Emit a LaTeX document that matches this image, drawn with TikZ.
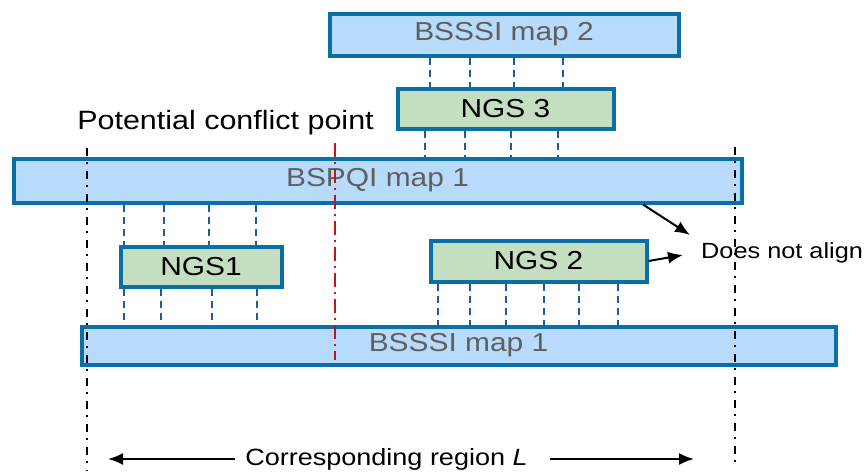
\documentclass[tikz,border=0pt]{standalone}
\usepackage{fontspec}
\setmainfont{Liberation Sans}
\usepackage{graphicx}
\usetikzlibrary{arrows.meta}
\definecolor{bfill}{HTML}{B8DBFB}
\definecolor{gfill}{HTML}{C4DFC0}
\definecolor{bord}{HTML}{0A6FA5}
\definecolor{gtext}{HTML}{5F5F5F}
\definecolor{dblue}{HTML}{1F5A9E}
\definecolor{cred}{HTML}{C0161E}
\newcommand{\sx}[1]{\scalebox{1.15}[1]{#1}}
\begin{document}
\begin{tikzpicture}[x=1pt,y=-1pt,
  mapbox/.style={draw=bord, line width=4pt, fill=bfill, inner sep=0pt, text=gtext, font=\fontsize{26}{30}\selectfont},
  ngsbox/.style={draw=bord, line width=4pt, fill=gfill, inner sep=0pt, text=black, font=\fontsize{26}{30}\selectfont},
  conn/.style={draw=dblue, line width=2.4pt, dash pattern=on 7pt off 5pt},
  bound/.style={draw=black, line width=2.4pt, dash pattern=on 8pt off 6pt on 2pt off 7pt},
  conflict/.style={draw=cred, line width=2.4pt, dash pattern=on 14pt off 5pt on 2pt off 5pt},
  arr/.style={draw=black, line width=2pt, -{Latex[length=15pt,width=12pt]}},
  lbl/.style={inner sep=0pt, text=black}
]
\useasboundingbox (0,0) rectangle (866,471);

% boxes
\node[mapbox, minimum width=349pt, minimum height=42pt] (map2) at (504,34.5) {\sx{BSSSI map 2}};
\node[ngsbox, minimum width=216pt, minimum height=40pt] (ngs3) at (505.5,108.5) {\sx{NGS 3}};
\node[mapbox, minimum width=728pt, minimum height=44pt] (bspqi) at (377.5,180.5) {\sx{BSPQI map 1}};
\node[ngsbox, minimum width=161pt, minimum height=40pt] (ngs1) at (201,266.5) {\sx{NGS1}};
\node[ngsbox, minimum width=216pt, minimum height=41pt] (ngs2) at (538.5,261) {\sx{NGS 2}};
\node[mapbox, minimum width=754pt, minimum height=38pt] (map1) at (458.5,345.5) {\sx{BSSSI map 1}};

% dashed correspondences
\foreach \x in {430,470,514,563} \draw[conn] (\x,0 |- map2.south) -- (\x,0 |- ngs3.north);
\foreach \x in {425,465,511,558} \draw[conn] (\x,0 |- ngs3.south) -- (\x,0 |- bspqi.north);
\foreach \x in {124,164,209,256} \draw[conn] (\x,0 |- bspqi.south) -- (\x,0 |- ngs1.north);
\foreach \x in {124,161,212,257} \draw[conn] (\x,0 |- ngs1.south) -- (\x,0 |- map1.north);
\foreach \x in {438,470,506,544,579,618} \draw[conn] (\x,0 |- ngs2.south) -- (\x,0 |- map1.north);

% region boundaries
\coordinate (lt) at (87,148);
\coordinate (lb) at (87,471);
\coordinate (rt) at (735,147);
\coordinate (rb) at (735,465);
\draw[bound] (lt) -- (lb);
\draw[bound] (rt) -- (rb);

% conflict line
\coordinate (ct) at (335,143);
\coordinate (cb) at (335,360);
\draw[conflict] (ct) -- (cb);

% labels
\node[lbl, font=\fontsize{26.5}{30}\selectfont] (pcp) at (225.5,123) {\sx{Potential conflict point}};
\node[lbl, anchor=west, font=\fontsize{22}{26}\selectfont] (dna) at (701,253) {\sx{Does not align}};
\node[lbl, font=\fontsize{23.5}{28}\selectfont] (reg) at (386.5,459) {\sx{Corresponding region \textit{L}}};

% arrows
\coordinate (a1) at (690,235);
\coordinate (a2) at (683,255);
\draw[arr] (bspqi.south -| 643,0) -- (a1);
\draw[arr] (ngs2.east) -- (a2);
\coordinate (lt2) at (108,459);
\coordinate (rt2) at (694,459);
\draw[arr] ([xshift=-10pt]reg.west) -- (lt2);
\draw[arr] ([xshift=22pt]reg.east) -- (rt2);
\end{tikzpicture}
\end{document}
